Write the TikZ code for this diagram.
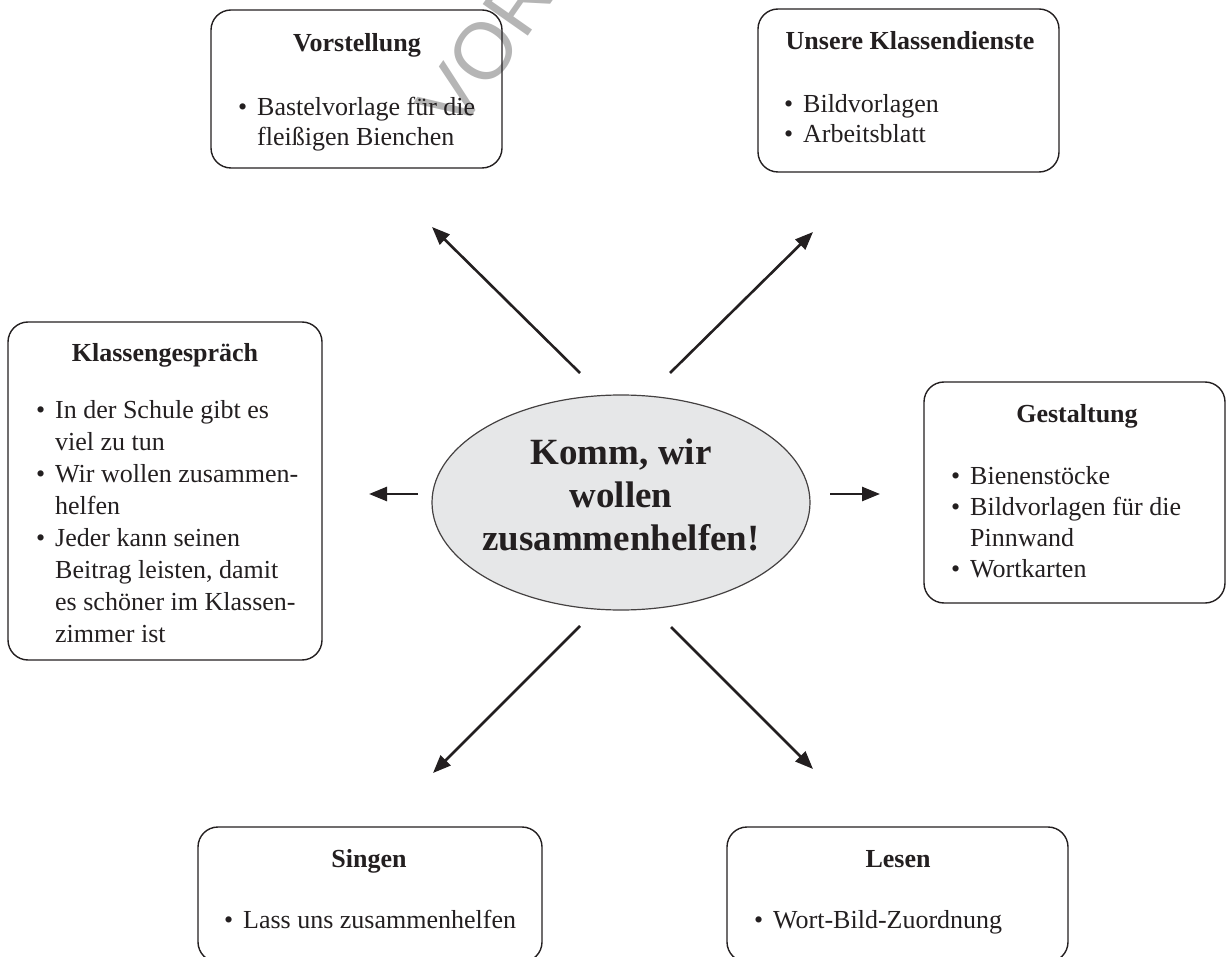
\documentclass[tikz,border=0pt]{standalone}
\usepackage{fontspec}
\setmainfont{Liberation Serif}
\newfontfamily\wmfont{Liberation Sans}
\usetikzlibrary{arrows.meta,shapes.geometric}
\definecolor{ink}{HTML}{231F20}
\definecolor{ellfill}{HTML}{E6E7E8}
\definecolor{wmgray}{HTML}{B5B5B5}
\newcommand{\bul}{\makebox[19pt][l]{•}}
\newcommand{\ind}{\hspace*{19pt}}
\tikzset{
  box/.style={draw=ink, line width=1.4pt, rounded corners=20pt, inner sep=0pt, rectangle},
  ttl/.style={font=\fontsize{26}{31}\selectfont\bfseries, text=ink, anchor=base, inner sep=0pt},
  items/.style={font=\fontsize{26}{#1}\selectfont, text=ink, anchor=base west, inner sep=0pt},
  items/.default=31,
  arr/.style={draw=ink, line width=2.6pt, -{Triangle[length=18pt,width=14pt]}},
}
\begin{document}
\begin{tikzpicture}[x=1pt,y=-1pt]
\useasboundingbox (0,0) rectangle (1226,957);
\begin{scope}
\clip (0,0) rectangle (1226,957);
% watermark
\node[rotate=55, anchor=base west, inner sep=0pt, text=wmgray, font=\fontsize{80}{80}\selectfont\wmfont] (wm) at (458,136) {VORSCHAU};
% boxes
\node[box, minimum width=291pt, minimum height=158pt] (vorst) at (356.5,89) {};
\node[box, minimum width=301pt, minimum height=163pt] (unsere) at (908.5,90.5) {};
\node[box, minimum width=314pt, minimum height=338pt] (klassen) at (165,491) {};
\node[box, minimum width=301pt, minimum height=221pt] (gestalt) at (1074.5,492.5) {};
\node[box, minimum width=344pt, minimum height=135pt] (singen) at (370,894.5) {};
\node[box, minimum width=341pt, minimum height=135pt] (lesen) at (897.5,894.5) {};
\end{scope}
% titles
\node[ttl] (tvorst) at (357,52) {Vorstellung};
\node[ttl] (tunsere) at (910,50) {Unsere Klassendienste};
\node[ttl] (tklassen) at (165,362) {Klassengespräch};
\node[ttl] (tgestalt) at (1077,422) {Gestaltung};
\node[ttl] (tsingen) at (369,867) {Singen};
\node[ttl] (tlesen) at (898,867) {Lesen};
% items
\node[items=30] (ivorst) at (238,116) {\begin{tabular}[t]{@{}l@{}}\bul Bastelvorlage für die\\ \ind fleißigen Bienchen\end{tabular}};
\node[items=30] (iunsere) at (784,113) {\begin{tabular}[t]{@{}l@{}}\bul Bildvorlagen\\ \bul Arbeitsblatt\end{tabular}};
\node[items=32] (iklassen) at (36,418) {\begin{tabular}[t]{@{}l@{}}\bul In der Schule gibt es\\ \ind viel zu tun\\ \bul Wir wollen zusammen-\\ \ind helfen\\ \bul Jeder kann seinen\\ \ind Beitrag leisten, damit\\ \ind es schöner im Klassen-\\ \ind zimmer ist\end{tabular}};
\node[items=31] (igestalt) at (951,484) {\begin{tabular}[t]{@{}l@{}}\bul Bienenstöcke\\ \bul Bildvorlagen für die\\ \ind Pinnwand\\ \bul Wortkarten\end{tabular}};
\node[items] (isingen) at (224,928) {\bul Lass uns zusammenhelfen};
\node[items] (ilesen) at (754,928) {\bul Wort-Bild-Zuordnung};
% center
\node[ellipse, draw=ink!85, line width=1.2pt, fill=ellfill, minimum width=378pt, minimum height=215pt, inner sep=0pt] (center) at (621,502.5) {};
\node[font=\fontsize{37}{43}\selectfont\bfseries, text=ink, anchor=base, inner sep=0pt] (ctext) at (621,464) {\begin{tabular}[t]{@{}c@{}}Komm, wir\\ wollen\\ zusammenhelfen!\end{tabular}};
% arrow ends
\coordinate (ulT) at (580,373); \coordinate (ulH) at (432,227);
\coordinate (urT) at (670,373); \coordinate (urH) at (813,232);
\coordinate (lT) at (418,494);  \coordinate (lH) at (369,494);
\coordinate (rT) at (830,494);  \coordinate (rH) at (880,494);
\coordinate (llT) at (580,626); \coordinate (llH) at (433,773);
\coordinate (lrT) at (671,627); \coordinate (lrH) at (813,769);
\draw[arr] (ulT) -- (ulH);
\draw[arr] (urT) -- (urH);
\draw[arr] (lT) -- (lH);
\draw[arr] (rT) -- (rH);
\draw[arr] (llT) -- (llH);
\draw[arr] (lrT) -- (lrH);
\end{tikzpicture}
\end{document}
